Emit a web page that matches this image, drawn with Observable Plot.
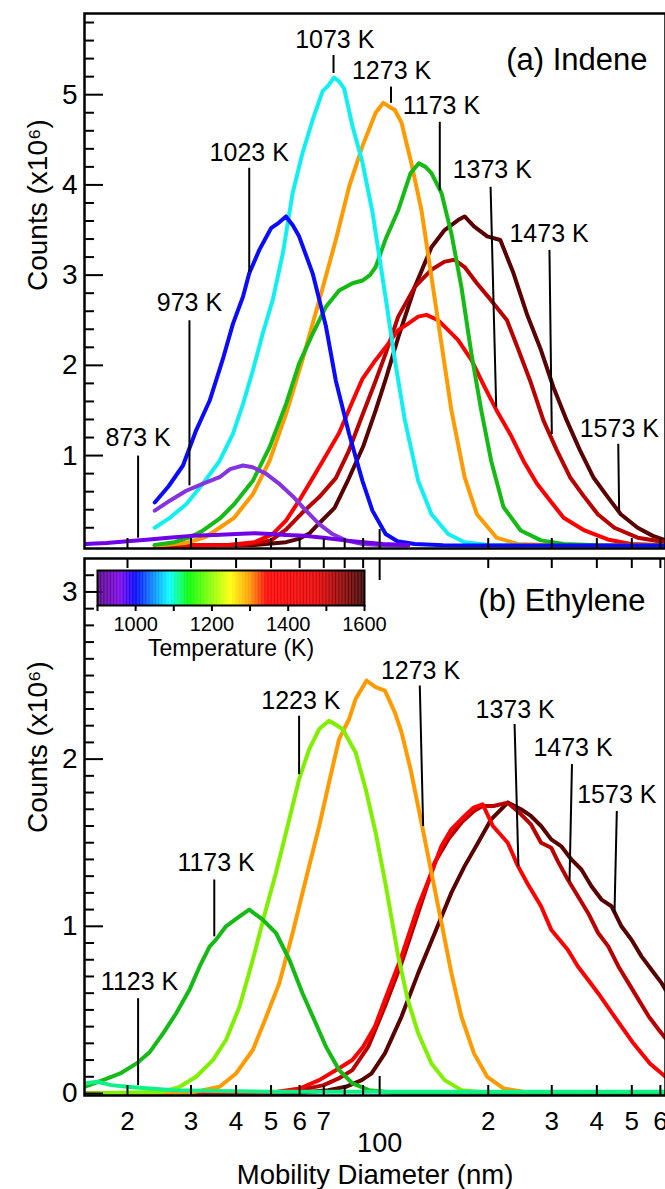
<!DOCTYPE html>
<html><head><meta charset="utf-8">
<script src="https://cdn.jsdelivr.net/npm/d3@7"></script>
<script src="https://cdn.jsdelivr.net/npm/@observablehq/plot@0.6"></script>
<style>
body{margin:0;background:#fff;}
#wrap{position:relative;width:665px;height:1189px;overflow:hidden;background:#fff;}
#wrap > svg{display:block;}
#cbar{position:absolute;left:0;top:558px;}
</style></head><body><div id="wrap"></div>
<script>
// ---------- data: mobility diameter (nm), counts (x10^6) ----------
const indene873  = [[15.2,0.02],[17.5,0.03],[20,0.05],[23,0.07],[26,0.09],[30,0.11],[35,0.12],[40,0.13],[45,0.14],[50,0.13],[55,0.12],[62,0.11],[70,0.09],[80,0.06],[90,0.04],[102,0.02],[120,0.01]];
const indene973  = [[23.8,0.39],[26.2,0.50],[29.1,0.61],[32.4,0.69],[36,0.76],[38.5,0.85],[41.8,0.89],[44.5,0.87],[48.4,0.80],[52.6,0.69],[57.4,0.55],[62.5,0.39],[68,0.24],[74,0.13],[80.5,0.06],[89.6,0.02],[100,0.01],[120,0.005]];
const indene1023 = [[23.8,0.48],[26,0.66],[28.5,0.89],[31,1.28],[33.8,1.61],[36.7,2.06],[39.2,2.46],[41.8,2.76],[43.5,3.02],[46.4,3.28],[50,3.52],[52.5,3.58],[55,3.65],[57.5,3.55],[59.8,3.43],[65.2,3.02],[71,2.43],[75.6,1.83],[82.3,1.24],[89.6,0.72],[95.5,0.39],[103.9,0.13],[112,0.05],[125,0.02],[150,0.005],[620,0.003]];
const indene1073 = [[23.8,0.20],[26.2,0.31],[29.1,0.46],[32.4,0.69],[36,0.94],[39.2,1.24],[41.8,1.57],[44.5,1.94],[47.4,2.35],[50.5,2.72],[53.9,3.24],[57.4,3.91],[61.1,4.35],[65.2,4.72],[69.5,5.04],[72,5.10],[74.8,5.19],[77,5.15],[79.7,5.07],[84.1,4.65],[89.6,4.25],[95.5,3.70],[103.9,2.75],[110.2,2.06],[117.5,1.39],[127.9,0.72],[139.2,0.35],[154.9,0.13],[172,0.04],[200,0.01],[250,0.004]];
const indene1173 = [[23.8,0.01],[27,0.04],[30,0.10],[32.4,0.17],[36,0.30],[39.5,0.46],[44.5,0.72],[49.5,1.09],[55,1.57],[59.8,2.02],[65.2,2.35],[71,2.65],[77.2,2.83],[84.1,2.91],[89.6,2.94],[94,3.0],[97.5,3.09],[103.9,3.40],[112.6,3.72],[121.8,4.13],[128.4,4.24],[134,4.20],[139.2,4.13],[148.4,3.91],[158.1,3.46],[168.5,2.87],[179.6,2.13],[191.3,1.50],[203.8,0.94],[220.4,0.43],[246,0.17],[280,0.06],[324,0.02],[400,0.005],[620,0.003]];
const indene1273 = [[23.8,0.0],[29,0.03],[33,0.10],[36,0.20],[39.5,0.31],[44.5,0.57],[49.5,0.94],[55,1.46],[61.1,2.06],[68,2.72],[75.6,3.39],[82.3,3.98],[89.6,4.43],[97.5,4.80],[102.4,4.91],[106,4.87],[110.2,4.83],[115,4.69],[121.8,4.28],[130.6,3.72],[139.2,2.98],[148.4,2.24],[158.1,1.50],[172,0.76],[186,0.35],[211,0.09],[241,0.02],[300,0.005],[620,0.003]];
const indene1373 = [[23.8,0.0],[38,0.01],[45,0.04],[50.5,0.13],[55,0.28],[59.8,0.50],[65.2,0.75],[71,1.0],[77.2,1.25],[84.1,1.60],[89.6,1.85],[97.5,2.06],[103.9,2.20],[112.6,2.39],[119.7,2.46],[127.9,2.54],[134.9,2.56],[145.2,2.50],[154.9,2.39],[165,2.28],[179.6,2.06],[195.5,1.76],[211,1.50],[230,1.24],[250.5,0.94],[272.7,0.69],[297,0.50],[323.6,0.31],[369.6,0.17],[428.9,0.07],[497,0.02],[620,0.005]];
const indene1473 = [[23.8,0.0],[42,0.01],[50,0.06],[55,0.18],[60.8,0.36],[68,0.54],[75.6,0.75],[81.9,1.04],[89.6,1.45],[97.5,1.83],[103.9,2.13],[112.6,2.54],[125.2,2.87],[139.2,3.06],[151.4,3.15],[161.5,3.17],[172,3.09],[186,2.91],[203.8,2.72],[225.4,2.50],[241,2.20],[261.3,1.83],[284.4,1.39],[309.7,1.06],[337.1,0.76],[369.6,0.54],[402.4,0.35],[447.3,0.20],[519,0.09],[620,0.04]];
const indene1573 = [[23.8,0.0],[45,0.01],[55,0.04],[60,0.08],[64,0.14],[68,0.25],[75,0.42],[82,0.74],[90,1.10],[97.5,1.50],[104,1.85],[112.6,2.31],[125.2,2.87],[139.2,3.31],[151.4,3.50],[165,3.61],[172,3.65],[182.6,3.54],[198.7,3.43],[216,3.39],[235,3.02],[255.9,2.57],[280,2.17],[303,1.76],[330,1.39],[359,1.06],[391,0.76],[429,0.54],[466,0.35],[519,0.20],[572,0.11],[620,0.06]];

const ethylene1123 = [[15.2,0.06],[16.5,0.07],[18,0.05],[20,0.04],[23,0.03],[27,0.02],[35,0.015],[50,0.01],[100,0.01],[200,0.01],[400,0.01],[620,0.01]];
const ethylene1173 = [[15.2,0.04],[17.1,0.08],[19.1,0.12],[21.2,0.18],[23.1,0.25],[25.1,0.36],[27.3,0.48],[29.7,0.62],[31.7,0.76],[33.8,0.88],[35.2,0.92],[37.5,1.00],[40.9,1.06],[43.5,1.10],[47.4,1.04],[51.6,0.96],[56.2,0.80],[61.1,0.60],[66.5,0.42],[71,0.28],[77.2,0.14],[84.1,0.06],[93.4,0.02],[110,0.005],[620,0.003]];
const ethylene1223 = [[15.2,0.0],[25,0.01],[27.9,0.04],[31,0.10],[34.5,0.20],[37.5,0.32],[40.9,0.52],[44.5,0.80],[48.1,1.08],[51.6,1.32],[55,1.56],[59.8,1.88],[63.8,2.06],[68,2.18],[72.4,2.23],[75,2.21],[78.9,2.18],[85.8,2.04],[91.5,1.82],[97.5,1.56],[103.9,1.25],[112.6,0.82],[119.7,0.56],[127.9,0.36],[139.2,0.18],[151.4,0.08],[168.5,0.02],[200,0.005],[620,0.003]];
const ethylene1273 = [[15.2,0],[30,0.005],[36,0.04],[40,0.12],[44.5,0.26],[48.1,0.44],[52.7,0.66],[57.4,0.96],[62.1,1.26],[68,1.60],[72.4,1.86],[77.2,2.12],[82.3,2.24],[85.8,2.36],[92,2.47],[97.5,2.43],[103.4,2.41],[110.2,2.28],[115,2.16],[121.8,1.94],[130.6,1.62],[139.2,1.32],[148.4,1.02],[158.1,0.72],[168.5,0.46],[182.6,0.24],[198.7,0.10],[220.4,0.03],[260,0.005],[620,0.002]];
const ethylene1373 = [[15.2,0],[50,0.005],[60,0.03],[68,0.08],[77,0.15],[84,0.20],[90,0.28],[97,0.40],[103.4,0.56],[115,0.82],[127.9,1.12],[139.2,1.32],[148.4,1.48],[158,1.58],[172,1.66],[182,1.71],[193,1.73],[206,1.60],[226.5,1.50],[241.8,1.36],[257.8,1.25],[280.2,1.12],[298.9,0.98],[332.3,0.86],[354.5,0.76],[378.2,0.68],[403.4,0.60],[447.7,0.46],[505.1,0.30],[561.2,0.18],[620,0.10]];
const ethylene1473 = [[15.2,0],[50,0.005],[60,0.02],[70,0.05],[77,0.09],[84,0.14],[93,0.28],[103.4,0.52],[115,0.78],[127.9,1.08],[142,1.38],[155,1.52],[168.5,1.62],[182.6,1.69],[193,1.72],[207,1.72],[226.5,1.74],[246.5,1.67],[262.6,1.61],[280.2,1.50],[298.9,1.47],[311.7,1.39],[332.3,1.28],[354.5,1.18],[378.2,1.08],[403.4,0.96],[430.3,0.88],[459.1,0.76],[489.7,0.66],[522.4,0.56],[557.3,0.46],[594.5,0.38],[620,0.33]];
const ethylene1573 = [[15.2,0],[60,0.005],[72,0.02],[80.5,0.04],[89.2,0.08],[95,0.12],[103.4,0.24],[115,0.46],[127.9,0.72],[142.2,0.96],[158,1.20],[172,1.36],[187.4,1.50],[203.8,1.64],[226.5,1.74],[246.5,1.70],[262.6,1.66],[280.2,1.60],[298.9,1.52],[318.4,1.48],[340,1.40],[362.5,1.34],[386.5,1.24],[412,1.16],[439.3,1.12],[468,1.00],[499,0.92],[532,0.82],[567,0.74],[605,0.66],[620,0.62]];

// temperatures of each series (K)
const indeneTemps   = [1573, 1473, 1373, 1273, 1173, 1073, 1023, 973, 873];
const indeneSeries  = [indene1573, indene1473, indene1373, indene1273, indene1173, indene1073, indene1023, indene973, indene873];
const ethyleneTemps  = [1573, 1473, 1373, 1273, 1223, 1173, 1123];
const ethyleneSeries = [ethylene1573, ethylene1473, ethylene1373, ethylene1273, ethylene1223, ethylene1173, ethylene1123];

// annotation labels (text, diameter nm, counts)
const labelsA = [
  {t:"873 K", x:21.4, y:1.19}, {t:"973 K", x:29.7, y:2.69}, {t:"1023 K", x:43.5, y:4.35},
  {t:"1073 K", x:75.1, y:5.61}, {t:"1273 K", x:107.9, y:5.26}, {t:"1173 K", x:148.3, y:4.88},
  {t:"1373 K", x:205.2, y:4.16}, {t:"1473 K", x:294.9, y:3.46}, {t:"1573 K", x:461.7, y:1.30}
];
const pointersA = [
  {x1:21.4, y1:1.0, x2:21.4, y2:0.09}, {x1:29.7, y1:2.5, x2:29.7, y2:0.67}, {x1:43.5, y1:4.19, x2:43.5, y2:3.04},
  {x1:74.5, y1:5.44, x2:74.5, y2:5.24}, {x1:107.5, y1:5.09, x2:107.5, y2:4.91}, {x1:146.8, y1:4.70, x2:146.8, y2:3.94},
  {x1:203.0, y1:3.98, x2:210.4, y2:1.54}, {x1:295.6, y1:3.28, x2:300.1, y2:1.24}, {x1:458.6, y1:1.13, x2:461.2, y2:0.39}
];
const labelsB = [
  {t:"1123 K", x:21.6, y:0.666}, {t:"1173 K", x:35.2, y:1.376}, {t:"1223 K", x:60.5, y:2.346},
  {t:"1273 K", x:129.8, y:2.526}, {t:"1373 K", x:237.5, y:2.296}, {t:"1473 K", x:343.6, y:2.066},
  {t:"1573 K", x:454.4, y:1.786}
];
const pointersB = [
  {x1:21.4, y1:0.57, x2:21.4, y2:0.05}, {x1:34.8, y1:1.28, x2:34.8, y2:0.94}, {x1:59.8, y1:2.26, x2:59.8, y2:1.91},
  {x1:129.2, y1:2.44, x2:132.0, y2:1.60}, {x1:236.6, y1:2.21, x2:242.5, y2:1.36}, {x1:341.3, y1:1.97, x2:336.0, y2:1.27},
  {x1:454.4, y1:1.69, x2:447.7, y2:1.08}
];

// axes
const xMinorTicks = [20,30,40,50,60,70,80,90,200,300,400,500,600];
const xMajorTicks = [100];
const xLabelValues = [20,30,40,50,60,70,80,200,300,400,500,600];
const xLabelTexts  = ["2","3","4","5","6","7","8","2","3","4","5","6"];
const yTicksA = [1,2,3,4,5];
const yTicksB = [0,1,2,3];
const yTitle = "Counts (x10\u2076)";
const xTitle = "Mobility Diameter (nm)";
const titleA = "(a) Indene";
const titleB = "(b) Ethylene";

// colour bar
const cbTicks = [900,1000,1100,1200,1300,1400,1500,1600];
const cbLabelValues = [1000,1200,1400,1600];
const cbTitle = "Temperature (K)";
const cbStops  = [900, 960, 1000, 1090, 1140, 1250, 1300, 1345, 1480, 1600];

// ---------- styles ----------
const cbColors = ["#50007a","#7a00e6","#0000ff","#00ffff","#00ff00","#ffff00","#ff9900","#ff0000","#e00000","#3c0000"];
const tempColor = {873:"#6f00e8", 973:"#8533e0", 1023:"#0a0aff", 1073:"#10f0f0", 1123:"#10f088", 1173:"#14bb14",
  1223:"#80f000", 1273:"#ff9a00", 1373:"#ff0000", 1473:"#bb0000", 1573:"#5a0000"};
const fontFam = "'Liberation Sans', Arial, Helvetica, sans-serif";
const xDomain = [15.2, 620];
const LW = 4;

const rows = arr => arr.map(([d, v]) => ({d, v}));

function curves(temps, series) {
  return series.map((s, i) => Plot.line(rows(s), {x: "d", y: "v", stroke: tempColor[temps[i]], strokeWidth: LW, clip: true, strokeLinejoin: "round"}));
}
function yMinor(step, max) {
  const out = []; for (let i = 1; i * step < max; i++) { const v = +(i * step).toFixed(2); if (Math.abs(v - Math.round(v)) > 1e-6) out.push(v); } return out;
}

// ---------- panel A ----------
const WA = 665, HA = 550, mLA = 84, mTA = 13, mBA = 2;
const fwA = WA - mLA, fhA = HA - mTA - mBA;
const plotA = Plot.plot({
  width: WA, height: HA, marginLeft: mLA, marginRight: 0, marginTop: mTA, marginBottom: mBA,
  style: {fontFamily: fontFam, background: "white", overflow: "visible"},
  x: {type: "log", domain: xDomain, axis: null},
  y: {domain: [-0.03, 5.9], axis: null},
  marks: [
    ...curves(indeneTemps, indeneSeries),
    Plot.tickX(xMinorTicks, {x: d => d, insetTop: fhA - 10, stroke: "black", strokeWidth: 2}),
    Plot.tickX(xMajorTicks, {x: d => d, insetTop: fhA - 19, stroke: "black", strokeWidth: 2}),
    Plot.tickY(yMinor(0.2, 5.9), {y: d => d, insetRight: fwA - 10, stroke: "black", strokeWidth: 2}),
    Plot.tickY(yTicksA, {y: d => d, insetRight: fwA - 19, stroke: "black", strokeWidth: 2}),
    Plot.frame({stroke: "black", strokeWidth: 2.5}),
    Plot.axisY({ticks: yTicksA, tickSize: 0, tickPadding: 7, fontSize: 28, tickFormat: d => String(d), label: null}),
    Plot.text([yTitle], {frameAnchor: "left", rotate: -90, dx: -46, dy: 10, fontSize: 28}),
    Plot.link(pointersA, {x1: "x1", y1: "y1", x2: "x2", y2: "y2", stroke: "black", strokeWidth: 2}),
    Plot.text(labelsA, {x: "x", y: "y", text: "t", fontSize: 25}),
    Plot.text([titleA], {frameAnchor: "top-right", dx: -18, dy: 34, textAnchor: "end", fontSize: 31})
  ]
});

// ---------- panel B ----------
const WB = 665, HB = 639, mLB = 84, mTB = 8, mBB = 94;
const fwB = WB - mLB, fhB = HB - mTB - mBB;
const plotB = Plot.plot({
  width: WB, height: HB, marginLeft: mLB, marginRight: 0, marginTop: mTB, marginBottom: mBB,
  style: {fontFamily: fontFam, background: "white", overflow: "visible"},
  x: {type: "log", domain: xDomain, axis: null},
  y: {domain: [-0.012, 3.2], axis: null},
  marks: [
    ...curves(ethyleneTemps, ethyleneSeries),
    Plot.tickX(xMinorTicks, {x: d => d, insetTop: fhB - 10, stroke: "black", strokeWidth: 2}),
    Plot.tickX(xMajorTicks, {x: d => d, insetTop: fhB - 19, stroke: "black", strokeWidth: 2}),
    Plot.tickX(xMinorTicks, {x: d => d, insetBottom: fhB - 10, stroke: "black", strokeWidth: 2}),
    Plot.tickX(xMajorTicks, {x: d => d, insetBottom: fhB - 22, stroke: "black", strokeWidth: 2}),
    Plot.tickY(yMinor(0.1, 3.2), {y: d => d, insetRight: fwB - 10, stroke: "black", strokeWidth: 2}),
    Plot.tickY(yTicksB, {y: d => d, insetRight: fwB - 19, stroke: "black", strokeWidth: 2}),
    Plot.frame({stroke: "black", strokeWidth: 2.5}),
    Plot.axisY({ticks: yTicksB, tickSize: 0, tickPadding: 7, fontSize: 28, tickFormat: d => String(d), label: null}),
    Plot.axisX({ticks: xLabelValues, tickSize: 0, tickPadding: 16, fontSize: 26, label: null,
      tickFormat: d => xLabelTexts[xLabelValues.indexOf(d)]}),
    Plot.axisX({ticks: xMajorTicks, tickSize: 0, tickPadding: 37, fontSize: 27, label: null, tickFormat: d => String(d)}),
    Plot.text([xTitle], {frameAnchor: "bottom", dy: 69, lineAnchor: "top", fontSize: 27.5}),
    Plot.text([yTitle], {frameAnchor: "left", rotate: -90, dx: -46, dy: 6, fontSize: 28}),
    Plot.link(pointersB, {x1: "x1", y1: "y1", x2: "x2", y2: "y2", stroke: "black", strokeWidth: 2}),
    Plot.text(labelsB, {x: "x", y: "y", text: "t", fontSize: 25}),
    Plot.text([titleB], {frameAnchor: "top-right", dx: -20, dy: 30, textAnchor: "end", fontSize: 31})
  ]
});

// ---------- colour bar ----------
const steps = d3.range(900, 1600, 2);
const cbar = Plot.plot({
  width: 400, height: 120, marginLeft: 97, marginRight: 36, marginTop: 12, marginBottom: 73,
  style: {fontFamily: fontFam, background: "transparent", overflow: "visible"},
  x: {domain: [900, 1600], axis: null},
  y: {domain: [0, 1], axis: null},
  color: {type: "linear", domain: cbStops, range: cbColors, interpolate: "rgb"},
  marks: [
    Plot.rect(steps, {x1: d => d, x2: d => Math.min(d + 2.6, 1600), y1: 0, y2: 1, fill: d => d + 1}),
    Plot.frame({stroke: "black", strokeWidth: 2}),
    Plot.axisX({ticks: cbTicks, tickSize: 6, tickPadding: 5, fontSize: 20, strokeWidth: 2, label: null,
      tickFormat: d => cbLabelValues.includes(d) ? String(d) : ""}),
    Plot.text([cbTitle], {frameAnchor: "bottom", dy: 50, fontSize: 23})
  ]
});
cbar.setAttribute("id", "cbar");

const wrap = document.getElementById("wrap");
wrap.appendChild(plotA);
wrap.appendChild(plotB);
wrap.appendChild(cbar);
</script>
</body></html>
